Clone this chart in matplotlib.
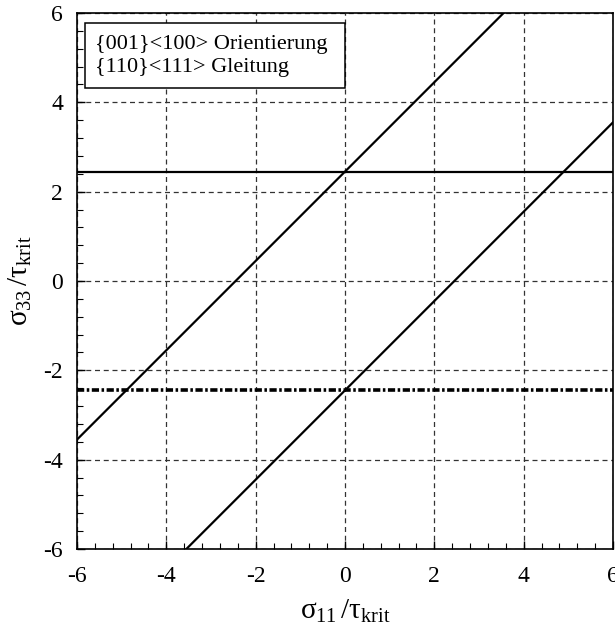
import matplotlib.pyplot as plt
from matplotlib.patches import Rectangle
from matplotlib.ticker import MultipleLocator

plt.rcParams['font.family'] = ['Liberation Serif', 'DejaVu Serif']
plt.rcParams['mathtext.fontset'] = 'custom'
plt.rcParams['mathtext.rm'] = 'Liberation Serif'
plt.rcParams['mathtext.it'] = 'Liberation Serif'
plt.rcParams['axes.unicode_minus'] = False

# yield limits (normalised by tau_krit)
x_range = [-6, 6]
upper_limit = 2.449
lower_limit = -2.449
diag_upper = [-6 + 2.449, 6 + 2.449]
diag_lower = [-6 - 2.449, 6 - 2.449]
ticks = [-6, -4, -2, 0, 2, 4, 6]
legend_lines = ["{001}<100> Orientierung", "{110}<111> Gleitung"]

fig = plt.figure(figsize=(6.15, 6.31), dpi=100)
ax = fig.add_axes([0.1252, 0.13, 0.8715, 0.8494])

ax.plot(x_range, diag_upper, color='black', lw=1.6)
ax.plot(x_range, diag_lower, color='black', lw=1.6)
ax.plot(x_range, [upper_limit, upper_limit], color='black', lw=1.6)
ax.plot(x_range, [lower_limit, lower_limit], color='black', lw=2.6,
        linestyle=(0, (2, 0.7, 0.7, 0.7)))

ax.set_xlim(-6, 6)
ax.set_ylim(-6, 6)
ax.set_xticks(ticks)
ax.set_yticks(ticks)
ax.xaxis.set_minor_locator(MultipleLocator(0.4))
ax.yaxis.set_minor_locator(MultipleLocator(0.4))
ax.tick_params(which='both', direction='in', top=False, right=False,
               labelsize=17)
ax.tick_params(axis='x', which='major', pad=12)
ax.tick_params(axis='y', which='major', pad=10)
ax.tick_params(which='major', length=6, width=1)
ax.tick_params(which='minor', length=4, width=0.8)
ax.grid(True, linestyle=(0, (4, 3)), color='#333333', lw=0.9)
for s in ax.spines.values():
    s.set_linewidth(1.2)

ax.set_xlabel(r'$\sigma_{11}\,/\tau_{\mathrm{krit}}$', fontsize=21, labelpad=8)
ax.set_ylabel(r'$\sigma_{33}\,/\tau_{\mathrm{krit}}$', fontsize=21, labelpad=7)

# legend box
ax.add_patch(Rectangle((0.015, 0.86), 0.485, 0.121, transform=ax.transAxes,
                       facecolor='white', edgecolor='black', lw=1.1, zorder=5))
ax.text(0.034, 0.92, "\n".join(legend_lines), transform=ax.transAxes,
        fontsize=16, va='center', ha='left', linespacing=1.25, zorder=6)

fig.savefig('out.png', dpi=100)
